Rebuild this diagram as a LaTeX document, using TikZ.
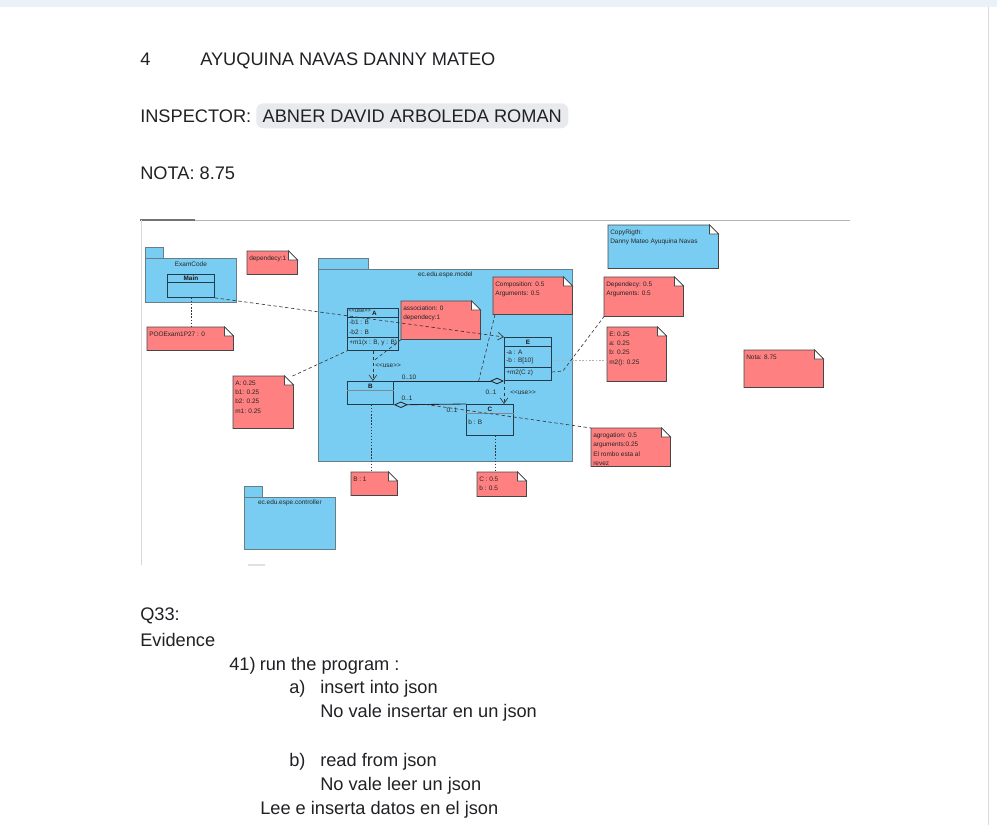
\documentclass[tikz,border=0pt]{standalone}
\usepackage{fontspec}
\setmainfont{Liberation Sans}
\usetikzlibrary{arrows.meta}

% one unit = one pixel of the page
\newlength\pxu \setlength\pxu{0.025cm}
\newlength\foldlen \setlength\foldlen{9\pxu}

\definecolor{pkgblue}{RGB}{122,205,242}
\definecolor{notered}{RGB}{255,128,128}
\definecolor{pkgedge}{RGB}{105,125,135}
\definecolor{clsedge}{RGB}{35,60,75}
\definecolor{noteedge}{RGB}{70,70,70}
\definecolor{connector}{RGB}{55,55,55}
\definecolor{chipgray}{RGB}{232,234,237}
\definecolor{topband}{RGB}{236,241,249}
\definecolor{doctext}{RGB}{32,33,36}

\tikzset{
  doc/.style={font=\fontsize{12.95}{15}\selectfont, inner sep=0, anchor=base west, text=doctext},
  tiny/.style={font=\fontsize{4.6}{6.6}\selectfont, inner sep=0, text=black!85},
  stereo/.style={font=\fontsize{4.1}{6}\selectfont, inner sep=0, text=black!85},
  clsname/.style={font=\fontsize{4.5}{6}\selectfont\bfseries, inner sep=0, text=black!90},
  member/.style={tiny, anchor=west},
  pkgtab/.style={draw=pkgedge, fill=pkgblue, line width=0.5pt, inner sep=0, anchor=north west},
  pkgbody/.style={draw=pkgedge, fill=pkgblue, line width=0.5pt, inner sep=0, anchor=north west},
  clsbox/.style={draw=clsedge, fill=pkgblue, line width=0.6pt, inner sep=0, anchor=north west},
  clsline/.style={draw=clsedge, line width=0.45pt},
  notebox/.style={inner sep=0, anchor=north west},
  noteline/.style={draw=noteedge, line width=0.5pt},
  dep/.style={draw=connector, line width=0.45pt, dash pattern=on 2.4pt off 1.8pt},
  dotted line/.style={draw=connector, line width=0.45pt, dash pattern=on 1pt off 1.2pt},
  graydot/.style={draw=black!30, line width=0.6pt, dash pattern=on 1.2pt off 1.2pt},
  assocline/.style={draw=black!85, line width=0.6pt},
  usearrow/.style={-{Straight Barb[length=4pt,width=5.5pt]}},
  aggstart/.style={{Diamond[open,length=10pt,width=4.6pt]}-},
  aggend/.style={-{Diamond[open,length=10pt,width=4.6pt]}},
  chip/.style={fill=chipgray, rounded corners=7\pxu, inner sep=0, anchor=north west,
    minimum width=312\pxu, minimum height=25\pxu,
    font=\fontsize{12.95}{15}\selectfont, text=doctext}
}

% package: name, x, y of tab top, tab width, tab height, body width, body height
\newcommand\umlpkg[7]{%
  \node[pkgtab, minimum width=#4\pxu, minimum height=#5\pxu] (#1-tab) at (#2,#3) {};
  \node[pkgbody, minimum width=#6\pxu, minimum height=#7\pxu] (#1) at (#2,#3+#5) {};
}

% note with folded corner: [fill], name, x, y, width, height, text
\newcommand\umlnote[7][notered]{%
  \node[notebox, minimum width=#5\pxu, minimum height=#6\pxu] (#2) at (#3,#4) {};
  \draw[noteline, fill=#1] (#2.north west) -- ([xshift=-\foldlen]#2.north east)
     -- ([yshift=-\foldlen]#2.north east) -- (#2.south east) -- (#2.south west) -- cycle;
  \draw[noteline, fill=white] ([xshift=-\foldlen]#2.north east)
     -- ([xshift=-\foldlen,yshift=-\foldlen]#2.north east)
     -- ([yshift=-\foldlen]#2.north east) -- cycle;
  \node[tiny, align=left, anchor=north west] (#2-text)
     at ([xshift=2\pxu,yshift=-4.5\pxu]#2.north west) {#7};
}

\begin{document}
\begin{tikzpicture}[x=0.025cm,y=-0.025cm]
\useasboundingbox (0,0) rectangle (997,825);

% page chrome
\fill[topband] (0,0) rectangle (997,7);
\draw[black!15, line width=0.6pt] (988,7) -- (988,825);

% heading lines
\node[doc] (num) at (140,65) {4};
\node[doc] (student) at (200,65) {AYUQUINA NAVAS DANNY MATEO};
\node[doc] (insp) at (140,122) {INSPECTOR:};
\node[chip] (inspname) at (256,103) {ABNER DAVID ARBOLEDA ROMAN};
\node[doc] (grade) at (140,179) {NOTA: 8.75};

% frame of the embedded diagram
\draw[black!30, line width=0.6pt] (140,220) -- (850,220);
\draw[black!55, line width=0.8pt] (140,220) -- (195,220);
\draw[black!15, line width=0.6pt] (141,220) -- (141,565);
\draw[black!12, line width=0.8pt] (248,565) -- (265,565);

% packages
\umlpkg{examcode}{145}{247}{18}{11}{91}{44}
\node[tiny, anchor=north] (examcode-label) at ([yshift=-3.5\pxu]examcode.north) {ExamCode};
\umlpkg{model}{318}{258}{50}{11}{254}{192}
\node[tiny, anchor=north] (model-label) at ([yshift=-3\pxu]model.north) {ec.edu.espe.model};
\umlpkg{controller}{244}{486}{18}{11}{91}{52}
\node[tiny, anchor=north] (controller-label) at ([yshift=-3\pxu]controller.north) {ec.edu.espe.controller};

% notes
\umlnote{ndep}{247}{251}{50}{23}{dependecy:1}
\umlnote{npoo}{147}{327}{86}{23}{POOExam1P27 : 0}
\umlnote{nA}{233}{376}{60}{52}{A: 0.25\\b1: 0.25\\b2: 0.25\\m1: 0.25}
\umlnote{nassoc}{401}{301}{79}{38}{association: 0\\dependecy:1}
\umlnote{ncomp}{493}{277}{79}{37}{Composition: 0.5\\Arguments: 0.5}
\umlnote[pkgblue]{ncopy}{608}{225}{110}{43}{CopyRigth:\\Danny Mateo Ayuquina Navas}
\umlnote{ndepn}{604}{277}{79}{39}{Dependecy: 0.5\\Arguments: 0.5}
\umlnote{nE}{607}{327}{59}{54}{E: 0.25\\a: 0.25\\b: 0.25\\m2(): 0.25}
\umlnote{nnota}{744}{350}{79}{37}{Nota: 8.75}
\umlnote{nB}{351}{472}{46}{23}{B : 1}
\umlnote{nC}{477}{472}{49}{24}{C : 0.5\\b : 0.5}
\umlnote{nagg}{591}{428}{79}{38}{agrogation: 0.5\\arguments:0.25\\El rombo esta al\\revez}

% classes
\node[clsbox, minimum width=47\pxu, minimum height=23\pxu] (Main) at (167,274) {};
\draw[clsline] ([yshift=-8\pxu]Main.north west) -- ([yshift=-8\pxu]Main.north east);
\node[clsname] (Main-name) at ([yshift=-4\pxu]Main.north) {Main};

\node[clsbox, minimum width=51\pxu, minimum height=42\pxu] (A) at (347,308) {};
\draw[clsline] ([yshift=-9\pxu]A.north west) -- ([yshift=-9\pxu]A.north east);
\draw[clsline] ([yshift=-29\pxu]A.north west) -- ([yshift=-29\pxu]A.north east);
\node[clsname] (A-name) at ([xshift=1.5\pxu,yshift=-5\pxu]A.north) {A};
\node[member] (A-b1) at (349,322) {-b1 : B};
\node[member] (A-b2) at (349,332) {-b2 : B};
\node[member] (A-m1) at (349,343) {+m1(x : B, y : B)};

\node[clsbox, minimum width=47\pxu, minimum height=43\pxu] (E) at (504,337) {};
\draw[clsline] ([yshift=-9\pxu]E.north west) -- ([yshift=-9\pxu]E.north east);
\draw[clsline] ([yshift=-30\pxu]E.north west) -- ([yshift=-30\pxu]E.north east);
\node[clsname] (E-name) at ([yshift=-5\pxu]E.north) {E};
\node[member] (E-a) at (506,352) {-a : A};
\node[member] (E-b) at (506,361) {-b : B[10]};
\node[member] (E-m2) at (506,373) {+m2(C z)};

\node[clsbox, minimum width=46\pxu, minimum height=23\pxu] (B) at (347,381) {};
\draw[clsline, draw=clsedge!60] ([yshift=-9\pxu]B.north west) -- ([yshift=-9\pxu]B.north east);
\node[clsname] (B-name) at ([yshift=-5\pxu]B.north) {B};

\node[clsbox, minimum width=47\pxu, minimum height=31\pxu] (C) at (466,404) {};
\draw[clsline, draw=clsedge!60] ([yshift=-9\pxu]C.north west) -- ([yshift=-9\pxu]C.north east);
\node[clsname] (C-name) at ([yshift=-5\pxu]C.north) {C};
\node[member] (C-b) at (468,422) {b : B};

% relationships
\draw[dep, usearrow] (Main.south east) -- (E.north west);
\node[stereo, anchor=west] (use-main) at (348,311) {<{}<use>{}>};

\draw[dep, usearrow] (A.south) -- coordinate[pos=0.35] (depAB) (A.south |- B.north);
\node[tiny, anchor=west] (use-ab) at (375,366) {<{}<use>{}>};

\draw[dep, usearrow] (E.south west) -- (E.south west |- C.north);
\node[tiny, anchor=west] (use-ec) at (510,393) {<{}<use>{}>};

\draw[assocline, aggend] (B.north east) -- coordinate[pos=0.77] (aggBE) (B.north east -| E.south west);
\node[tiny] (mBE1) at (409,377) {0..10};
\node[tiny] (mBE2) at (491,392) {0..1};

\draw[assocline, aggstart] (B.south east) -- coordinate[pos=0.44] (aggBC) (C.north west);
\node[tiny] (mBC1) at (407,398) {0..1};
\node[tiny] (mBC2) at (452,410) {0..1};

% note attachments
\draw[dotted line] (Main.south) -- (Main.south |- npoo.north);
\draw[dep] ([xshift=-1\pxu]nA.north east) -- (A.south west);
\draw[dep] (nassoc.south west) -- (depAB);
\draw[dep] ([xshift=2\pxu]ncomp.south west) -- (aggBE);
\draw[dep] ([yshift=-35\pxu]E.north east) -- ++(11,-1) -- (ndepn.south west);
\draw[graydot] ([yshift=-23\pxu]E.north east) -- ([yshift=-23\pxu]E.north east -| nE.west);
\draw[dotted line] ([xshift=1\pxu]B.south) -- ([xshift=1\pxu]B.south |- nB.north);
\draw[dotted line] ([xshift=5\pxu]C.south) -- ([xshift=5\pxu]C.south |- nC.north);
\draw[dep] (aggBC) -- (nagg.north west);

% evidence text
\node[doc] (q33) at (140,620) {Q33:};
\node[doc] (evid) at (140,646) {Evidence};
\node[doc] (item41) at (229,670) {41)};
\node[doc] (run) at (259.5,670) {run the program :};
\node[doc] (ia) at (289,693) {a)};
\node[doc] (ia-text) at (320,693) {insert into json};
\node[doc] (ia-note) at (320,717) {No vale insertar en un json};
\node[doc] (ib) at (289,766) {b)};
\node[doc] (ib-text) at (320,766) {read from json};
\node[doc] (ib-note) at (320,790) {No vale leer un json};
\node[doc] (summary) at (260,814) {Lee e inserta datos en el json};
\end{tikzpicture}
\end{document}
